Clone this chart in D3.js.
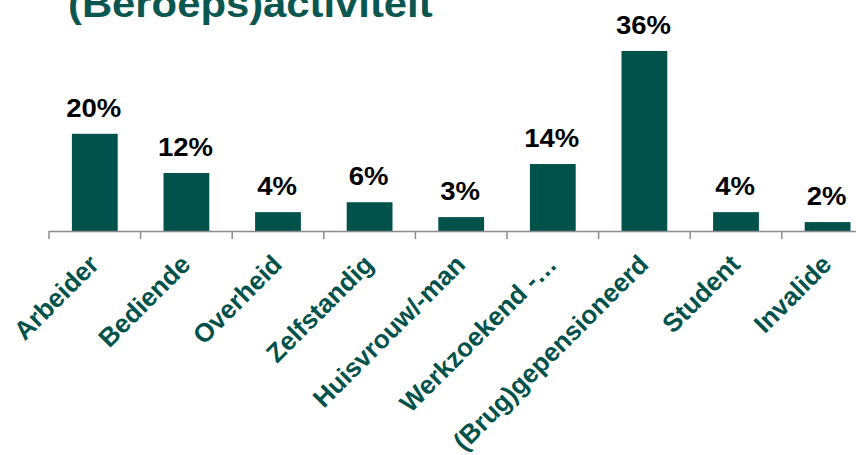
<!DOCTYPE html>
<html>
<head>
<meta charset="utf-8">
<script src="https://cdn.jsdelivr.net/npm/d3@7"></script>
<style>
  body { margin: 0; background: #fff; }
  svg { display: block; font-family: "Liberation Sans", Arial, sans-serif; }
</style>
</head>
<body>
<svg id="chart"></svg>
<script>
// Data
const title = "(Beroeps)activiteit";
const categories = ["Arbeider", "Bediende", "Overheid", "Zelfstandig", "Huisvrouw/-man",
  "Werkzoekend -\u2026", "(Brug)gepensioneerd", "Student", "Invalide"];
const values = [19.6, 11.7, 3.8, 5.8, 2.8, 13.5, 36.3, 3.8, 1.8];

// Dimensions
const width = 856;
const height = 455;
const left = 49;
const step = 91.6;
const baseY = 231;

const green = "#02524c";
const stretch = 1.1; // the source text looks a bit wider than Arial

const svg = d3.select("#chart").attr("width", width).attr("height", height);

// Scales
const xScale = d3.scaleBand()
  .domain(categories)
  .range([left, left + step * categories.length])
  .paddingInner(0.5)
  .paddingOuter(0.25);

const yScale = d3.scaleLinear().domain([0, 40]).range([baseY, baseY - 40 * 4.96]);

// Title (cut off at the top in the source)
svg.append("text")
  .attr("transform", `translate(68, 17) scale(${stretch},1)`)
  .attr("font-size", 38)
  .attr("font-weight", "bold")
  .attr("fill", "#0a5751")
  .text(title);

// Bars
svg.selectAll("rect.bar")
  .data(values)
  .enter()
  .append("rect")
  .attr("class", "bar")
  .attr("x", (d, i) => xScale(categories[i]))
  .attr("y", (d) => yScale(d))
  .attr("width", xScale.bandwidth())
  .attr("height", (d) => yScale(0) - yScale(d))
  .attr("fill", green);

// Value labels
svg.selectAll("text.value")
  .data(values)
  .enter()
  .append("text")
  .attr("class", "value")
  .attr("transform", (d, i) =>
    `translate(${xScale(categories[i]) + xScale.bandwidth() / 2 - 1}, ${yScale(d) - 17}) scale(${stretch},1)`)
  .attr("text-anchor", "middle")
  .attr("font-size", 25)
  .attr("font-weight", "bold")
  .attr("fill", "#000")
  .text((d) => Math.round(d) + "%");

// Axis line with ticks between the categories
const axis = svg.append("g").attr("class", "x-axis");
axis.append("line")
  .attr("x1", left)
  .attr("x2", width)
  .attr("y1", baseY + 0.5)
  .attr("y2", baseY + 0.5)
  .attr("stroke", "#8c8c8c")
  .attr("stroke-width", 1.5);

axis.selectAll("line.tick")
  .data(categories)
  .enter()
  .append("line")
  .attr("class", "tick")
  .attr("x1", (d) => xScale(d) - xScale.step() * 0.25)
  .attr("x2", (d) => xScale(d) - xScale.step() * 0.25)
  .attr("y1", baseY)
  .attr("y2", baseY + 8)
  .attr("stroke", "#8c8c8c")
  .attr("stroke-width", 1.5);

// Category labels, rotated
axis.selectAll("text.cat")
  .data(categories)
  .enter()
  .append("text")
  .attr("class", "cat")
  .attr("transform", (d) =>
    `translate(${xScale(d) + xScale.bandwidth() / 2 + 5.5}, ${baseY + 35}) rotate(-45)`)
  .attr("text-anchor", "end")
  .attr("font-size", 26)
  .attr("font-weight", "bold")
  .attr("fill", green)
  .text((d) => d);
</script>
</body>
</html>
